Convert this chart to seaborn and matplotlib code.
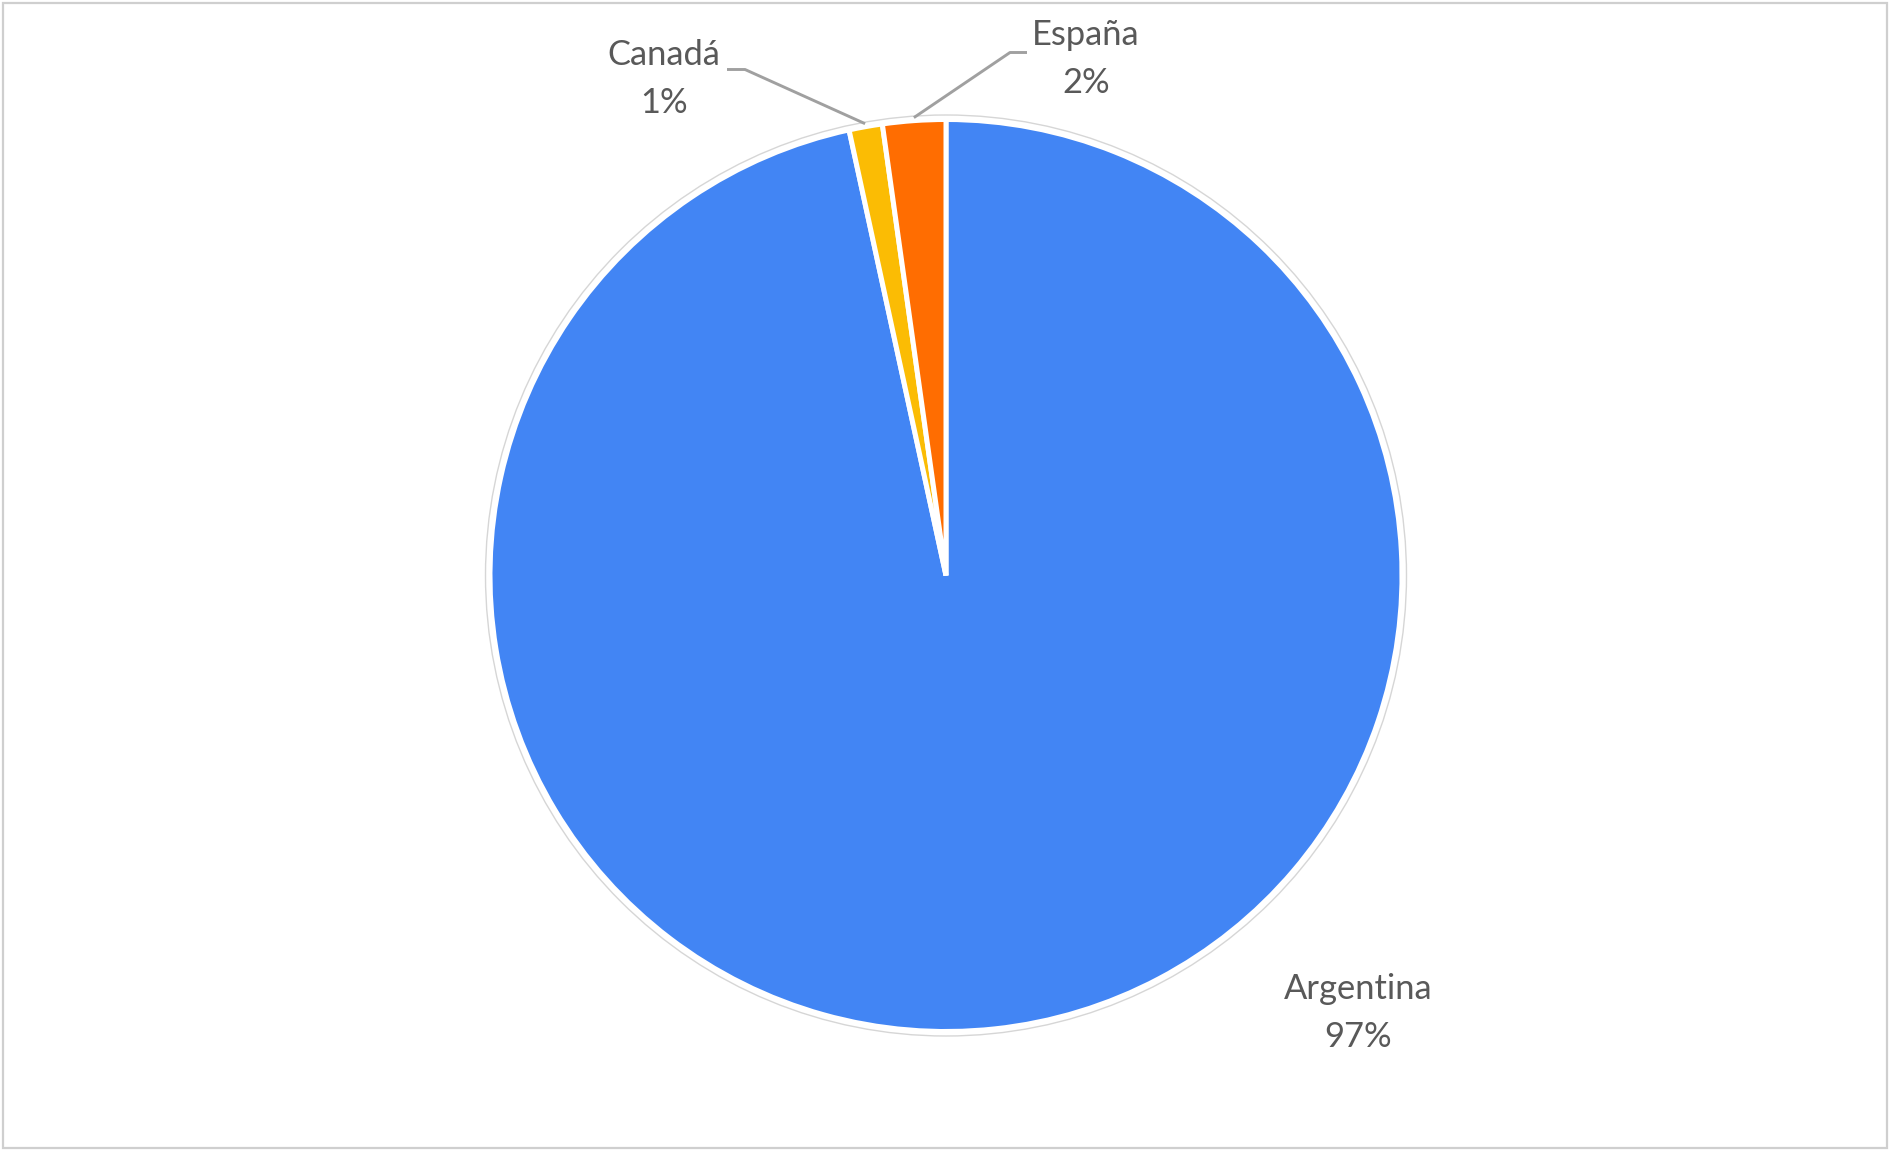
import matplotlib
matplotlib.use("Agg")
import matplotlib.pyplot as plt
import matplotlib.patches as mpatches
import numpy as np
import seaborn as sns

# ---- data ----
countries = ["Argentina", "Canadá", "España"]
shares = [96.59, 1.18, 2.23]
colors = ["#4285F4", "#FBBC04", "#FF6D01"]

# ---- layout (pixels) ----
W, H, DPI = 1890, 1151, 100
CX, CY, R = 946.0, 575.5, 453.5
label_centers = {"Argentina": (1358, 1013), "Canadá": (664, 79), "España": (1086, 59)}
elbows = {"Canadá": [(745, 69.5), (727, 69.5)], "España": [(1010, 52.5), (1027, 52.5)]}

sns.set_theme(style="white")
plt.rcParams["font.family"] = ["Lato", "DejaVu Sans"]

fig = plt.figure(figsize=(W / DPI, H / DPI), dpi=DPI)
fig.patch.set_facecolor("white")
ax = fig.add_axes([0, 0, 1, 1])

def px2d(px, py):
    return ((px - CX) / R, (CY - py) / R)

wedges, _ = ax.pie(
    shares,
    colors=colors,
    startangle=90,
    counterclock=False,
    radius=456 / R,
    wedgeprops=dict(edgecolor="white", linewidth=3.6),
)
ax.set_xlim(-CX / R, (W - CX) / R)
ax.set_ylim(-(H - CY) / R, CY / R)
ax.set_axis_off()

# faint outline ring
ax.add_patch(mpatches.Circle((0, 0), 460.5 / R, fill=False, ec="#d6d6d6", lw=1.0, zorder=0))

total = sum(shares)
for name, val, w in zip(countries, shares, wedges):
    pct = round(val / total * 100)
    cx, cy = px2d(*label_centers[name])
    ax.text(cx, cy, f"{name}\n{pct}%", ha="center", va="center",
            fontsize=24.8, color="#595959", linespacing=1.6)
    if name in elbows:
        mid = np.deg2rad((w.theta1 + w.theta2) / 2)
        r0 = 459 / R
        pts = [(r0 * np.cos(mid), r0 * np.sin(mid))] + [px2d(*p) for p in elbows[name]]
        xs, ys = zip(*pts)
        ax.plot(xs, ys, color="#a0a0a0", lw=2.1, solid_capstyle="butt")

# figure border
fig.patches.append(mpatches.Rectangle((3 / W, 3 / H), (W - 6) / W, (H - 6) / H,
                                      transform=fig.transFigure, fill=False,
                                      ec="#cfcfcf", lw=1.6))

fig.savefig("out.png", dpi=DPI, facecolor="white")
